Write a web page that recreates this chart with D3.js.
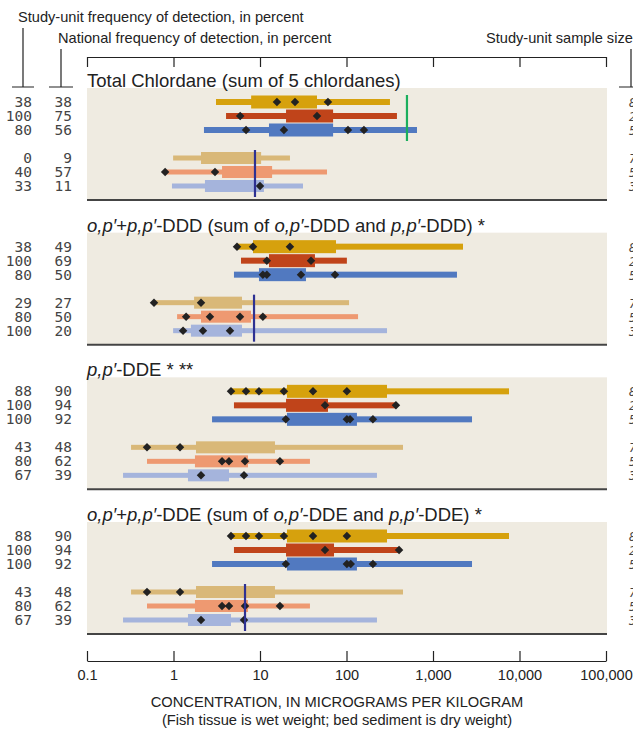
<!DOCTYPE html>
<html><head><meta charset="utf-8">
<script src="https://cdn.jsdelivr.net/npm/d3@7"></script>
<style>
body{margin:0;background:#fff;}
svg{display:block;font-family:"Liberation Sans",Arial,sans-serif;}
</style></head><body>
<svg id="c" width="633" height="730"></svg>
<script>
// ---------- DATA ----------
const tickValues = [0.1, 1, 10, 100, 1000, 10000, 100000];
const tickLabels = ["0.1", "1", "10", "100", "1,000", "10,000", "100,000"];

const panelTitles = [
  [["Total Chlordane (sum of 5 chlordanes)", false]],
  [["o,p\u2032", true], ["+", false], ["p,p\u2032", true], ["-DDD (sum of ", false], ["o,p\u2032", true], ["-DDD and ", false], ["p,p\u2032", true], ["-DDD) *", false]],
  [["p,p\u2032", true], ["-DDE * **", false]],
  [["o,p\u2032", true], ["+", false], ["p,p\u2032", true], ["-DDE (sum of ", false], ["o,p\u2032", true], ["-DDE and ", false], ["p,p\u2032", true], ["-DDE) *", false]]
];

// rows: 3 fish-tissue rows then 3 bed-sediment rows
const studyFreq = [
  [38, 100, 80, 0, 40, 33],
  [38, 100, 80, 29, 80, 100],
  [88, 100, 100, 43, 80, 67],
  [88, 100, 100, 43, 80, 67]
];
const nationalFreq = [
  [38, 75, 56, 9, 57, 11],
  [49, 69, 50, 27, 50, 20],
  [90, 94, 92, 48, 62, 39],
  [90, 94, 92, 48, 62, 39]
];
const sampleSize = [8, 2, 5, 7, 5, 3];

// [min, 25th, 75th, max] per row
const chlordaneRanges = [[3.1, 7.9, 45.6, 318], [4.05, 20, 70, 383], [2.25, 12.7, 70, 653],
                         [0.99, 2.08, 10.3, 22.2], [0.82, 3.64, 13.8, 59.5], [0.96, 2.31, 11.1, 31.4]];
const chlordanePoints = [[15.7, 25.4, 61], [5.9, 45.6], [6.9, 18.9, 104, 159], [], [0.8, 3.02], [10.0]];

const dddRanges = [[5.42, 8.3, 75.6, 2222], [6.03, 12.7, 43.2, 101], [5.0, 9.73, 34.0, 1893],
                   [0.595, 1.73, 6.19, 107], [1.10, 2.08, 7.87, 136], [0.99, 1.59, 6.19, 294]];
const dddPoints = [[5.42, 8.3, 22.2], [12.0, 38.9], [10.8, 12.0, 29.8, 73.6],
                   [0.595, 2.08], [1.40, 2.64, 5.87, 10.8], [1.29, 2.19, 4.50]];

const ppddeRanges = [[4.62, 20.5, 294, 7565], [5.0, 20.0, 61.1, 373], [2.79, 20.5, 132, 2825],
                     [0.323, 1.82, 14.9, 450], [0.494, 1.77, 7.27, 37.8], [0.261, 1.47, 4.38, 225]];
const ppddePoints = [[4.62, 6.89, 9.73, 18.9, 41.0, 101], [56.4, 373], [19.9, 101, 110, 202],
                     [0.494, 1.19], [3.64, 4.38, 6.71, 17.0], [2.08, 6.53]];

const sumddeRanges = [[4.62, 20.5, 294, 7565], [5.0, 20.0, 71.7, 405], [2.79, 20.5, 132, 2825],
                      [0.323, 1.82, 14.9, 450], [0.494, 1.77, 7.27, 37.8], [0.261, 1.47, 4.62, 225]];
const sumddePoints = [[4.62, 6.89, 9.73, 18.9, 41.0, 101], [56.4, 405], [19.9, 101, 112, 202],
                      [0.494, 1.19], [3.64, 4.38, 6.71, 17.0], [2.08, 6.53]];

const fishGuideline = [500, null, null, null];
const sedimentGuideline = [8.75, 8.53, null, 6.71];

const panelRanges = [chlordaneRanges, dddRanges, ppddeRanges, sumddeRanges];
const panelPoints = [chlordanePoints, dddPoints, ppddePoints, sumddePoints];

// ---------- STYLE ----------
const rowColors = ["#D6A10D", "#C0441A", "#5179C0", "#D9B878", "#EE9971", "#A5B4DC"];
const bgColor = "#EFEBE1";

// ---------- DRAW ----------
const svg = d3.select("#c");
const x = d3.scaleLog().domain([0.1, 100000]).range([87, 606]);
const panelTop = d3.scaleLinear().domain([0, 3]).range([88, 522]);
const rowOffset = [14, 28, 42, 70, 84, 98];
const panelH = 112;

// headers
const hdr = svg.append("g").attr("fill", "#222").attr("font-size", 14.6);
hdr.append("text").attr("x", 18).attr("y", 22).text("Study-unit frequency of detection, in percent");
hdr.append("text").attr("x", 58).attr("y", 43).text("National frequency of detection, in percent");
hdr.append("text").attr("x", 486).attr("y", 43).text("Study-unit sample size");
const br = svg.append("g").attr("stroke", "#222").attr("stroke-width", 1.2).attr("fill", "none");
br.append("path").attr("d", "M23,28V87M12,87H34");
br.append("path").attr("d", "M61,49V87M49,87H73");
br.append("path").attr("d", "M631,49V87M619,87H640");

// top axis
svg.append("g").attr("transform", "translate(0,57)")
  .call(d3.axisBottom(x).tickValues(tickValues).tickFormat("").tickSizeInner(10).tickSizeOuter(0))
  .call(g => g.selectAll("line,path").attr("stroke", "#222").attr("stroke-width", 1.2));

// bottom axis
const bax = svg.append("g").attr("transform", "translate(0,661)")
  .call(d3.axisBottom(x).tickValues(tickValues).tickFormat((d, i) => tickLabels[i]).tickSizeInner(-10).tickSizeOuter(0).tickPadding(9));
bax.selectAll("line,path").attr("stroke", "#222").attr("stroke-width", 1.2);
bax.selectAll("text").attr("font-size", 14.5).attr("fill", "#222").attr("font-family", "Liberation Sans, Arial, sans-serif");

svg.append("text").attr("x", 337).attr("y", 707).attr("text-anchor", "middle")
  .attr("font-size", 14.7).attr("fill", "#222").text("CONCENTRATION, IN MICROGRAMS PER KILOGRAM");
svg.append("text").attr("x", 337).attr("y", 725).attr("text-anchor", "middle")
  .attr("font-size", 14.7).attr("fill", "#222").text("(Fish tissue is wet weight; bed sediment is dry weight)");

panelTitles.forEach((title, p) => {
  const top = panelTop(p);
  const g = svg.append("g");
  g.append("rect").attr("x", x(0.1)).attr("y", top).attr("width", x(100000) - x(0.1) + 1)
    .attr("height", panelH).attr("fill", bgColor);
  g.append("line").attr("x1", x(0.1)).attr("x2", x(100000) + 1).attr("y1", top + panelH).attr("y2", top + panelH)
    .attr("stroke", "#444").attr("stroke-width", 2);

  // title
  const t = g.append("text").attr("x", x(0.1)).attr("y", top - 1).attr("font-size", 18.5).attr("fill", "#222");
  title.forEach(([s, it]) => {
    const sp = t.append("tspan").text(s);
    if (it) sp.attr("font-style", "italic");
  });

  const ranges = panelRanges[p], pts = panelPoints[p];
  ranges.forEach((r, i) => {
    const cy = top + rowOffset[i];
    const light = i >= 3;
    const thin = light ? 5 : 6, thick = light ? 12 : 13;
    g.append("rect").attr("x", x(r[0])).attr("width", x(r[3]) - x(r[0]))
      .attr("y", cy - thin / 2).attr("height", thin).attr("fill", rowColors[i]);
    g.append("rect").attr("x", x(r[1])).attr("width", x(r[2]) - x(r[1]))
      .attr("y", cy - thick / 2).attr("height", thick).attr("fill", rowColors[i]);
    pts[i].forEach(v => {
      g.append("path").attr("d", d3.symbol().type(d3.symbolSquare).size(36)())
        .attr("transform", `translate(${x(v)},${cy}) rotate(45)`).attr("fill", "#222");
    });
    // frequency numbers
    const num = g.append("g").attr("font-family", "DejaVu Sans Mono, monospace").attr("font-size", 14.5)
      .attr("fill", "#444").attr("text-anchor", "end");
    num.append("text").attr("x", 32).attr("y", cy + 5).text(studyFreq[p][i]);
    num.append("text").attr("x", 72).attr("y", cy + 5).text(nationalFreq[p][i]);
    g.append("text").attr("x", 629).attr("y", cy + 5).attr("font-family", "DejaVu Sans Mono, monospace")
      .attr("font-size", 12).attr("font-style", "italic").attr("fill", "#444").text(sampleSize[i]);
  });

  if (fishGuideline[p] != null) {
    g.append("line").attr("x1", x(fishGuideline[p])).attr("x2", x(fishGuideline[p]))
      .attr("y1", top + 7).attr("y2", top + 53).attr("stroke", "#1BAF5D").attr("stroke-width", 2.2);
  }
  if (sedimentGuideline[p] != null) {
    g.append("line").attr("x1", x(sedimentGuideline[p])).attr("x2", x(sedimentGuideline[p]))
      .attr("y1", top + 62).attr("y2", top + 109).attr("stroke", "#2E3192").attr("stroke-width", 2.2);
  }
});
</script>
</body></html>
